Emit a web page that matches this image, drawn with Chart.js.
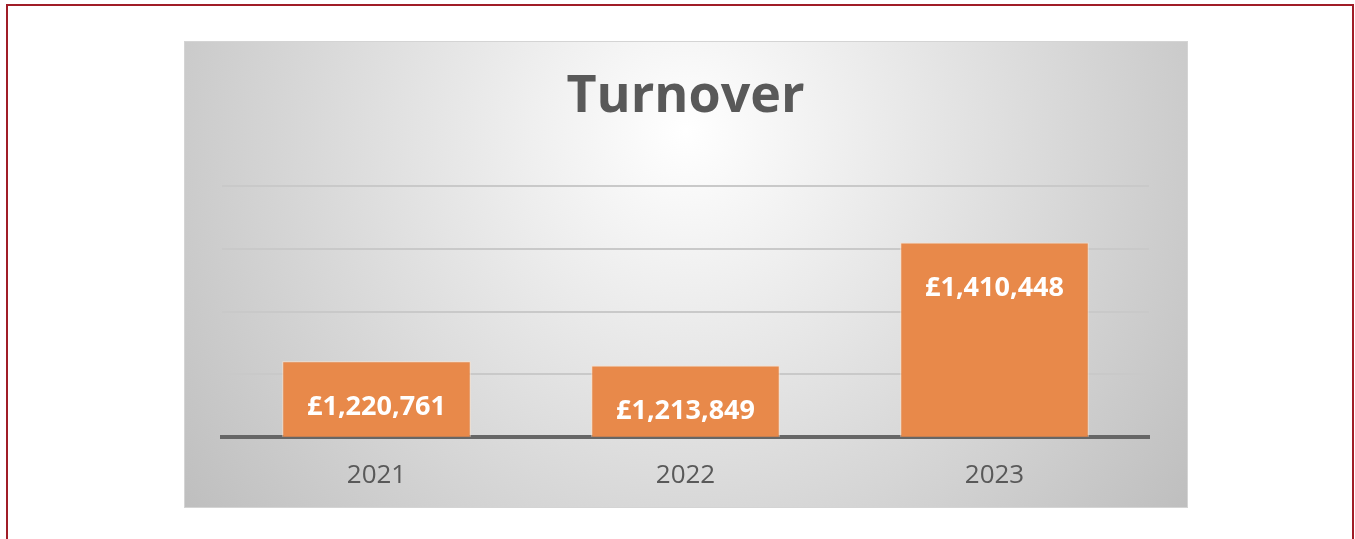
<!DOCTYPE html>
<html>
<head>
<meta charset="utf-8">
<script src="https://cdn.jsdelivr.net/npm/chart.js@4.4.0/dist/chart.umd.min.js"></script>
<style>
  body { margin: 0; background: #ffffff; width: 1355px; height: 539px; overflow: hidden; position: relative; }
  #frame { position: absolute; left: 6px; top: 4px; width: 1344px; height: 560px;
           border-top: 2px solid #a01d27; border-left: 2px solid #a01d27; border-right: 2px solid #a01d27; }
  #box { position: absolute; left: 184px; top: 41px; width: 1004px; height: 467px; }
</style>
</head>
<body>
<div id="frame"></div>
<div id="box"><canvas id="myChart"></canvas></div>
<script>
// chart data
const years = ["2021", "2022", "2023"]
const turnover = [1220761, 1213849, 1410448]
const axisMin = 1100000
const axisMax = 1500000
const axisStep = 100000

// grey radial background like the office chart
const backdrop = {
  id: "backdrop",
  beforeDraw(chart) {
    const ctx = chart.ctx
    const w = chart.width, h = chart.height
    const g = ctx.createRadialGradient(502, 90, 0, 502, 90, 640)
    g.addColorStop(0, "#ffffff")
    g.addColorStop(1, "#bdbdbd")
    ctx.save()
    ctx.fillStyle = g
    ctx.fillRect(0, 0, w, h)
    ctx.strokeStyle = "#d4d4d4"
    ctx.lineWidth = 1
    ctx.strokeRect(0.5, 0.5, w - 1, h - 1)
    ctx.restore()
  }
}

// value labels inside the top of each bar
const barLabels = {
  id: "barLabels",
  afterDatasetsDraw(chart) {
    const ctx = chart.ctx
    const meta = chart.getDatasetMeta(0)
    ctx.save()
    ctx.fillStyle = "#ffffff"
    ctx.font = "bold 27px 'Open Sans'"
    ctx.textAlign = "center"
    ctx.textBaseline = "middle"
    meta.data.forEach(function(bar, i) {
      ctx.fillText("£" + turnover[i].toLocaleString("en-GB"), bar.x, bar.y + 46)
    })
    ctx.restore()
  }
}

const ctx = document.getElementById("myChart").getContext("2d")
const chart = new Chart(ctx, {
  type: "bar",
  data: {
    labels: years,
    datasets: [{
      data: turnover,
      backgroundColor: "#e8894a",
      borderColor: "rgba(255,225,200,0.85)",
      borderWidth: 1,
      borderSkipped: "bottom",
      barPercentage: 0.61,
      categoryPercentage: 1
    }]
  },
  options: {
    responsive: true,
    maintainAspectRatio: false,
    animation: false,
    layout: { padding: { left: 38, right: 39, top: 0, bottom: -6 } },
    plugins: {
      legend: { display: false },
      tooltip: { enabled: false },
      title: {
        display: true,
        text: "Turnover",
        color: "#595959",
        font: { family: "'Open Sans'", size: 52, weight: "bold" },
        padding: { top: 25, bottom: 58 }
      }
    },
    scales: {
      x: {
        z: 1,
        grid: { display: true, drawOnChartArea: false, drawTicks: false },
        border: { display: true, color: "#666666", width: 4 },
        ticks: { color: "#595959", padding: 23, font: { family: "'Open Sans'", size: 26 } }
      },
      y: {
        min: axisMin,
        max: axisMax,
        ticks: { display: false, stepSize: axisStep },
        grid: { color: "#c9c9c9", lineWidth: 2, drawTicks: false },
        border: { display: false }
      }
    }
  },
  plugins: [backdrop, barLabels]
})
</script>
</body>
</html>
